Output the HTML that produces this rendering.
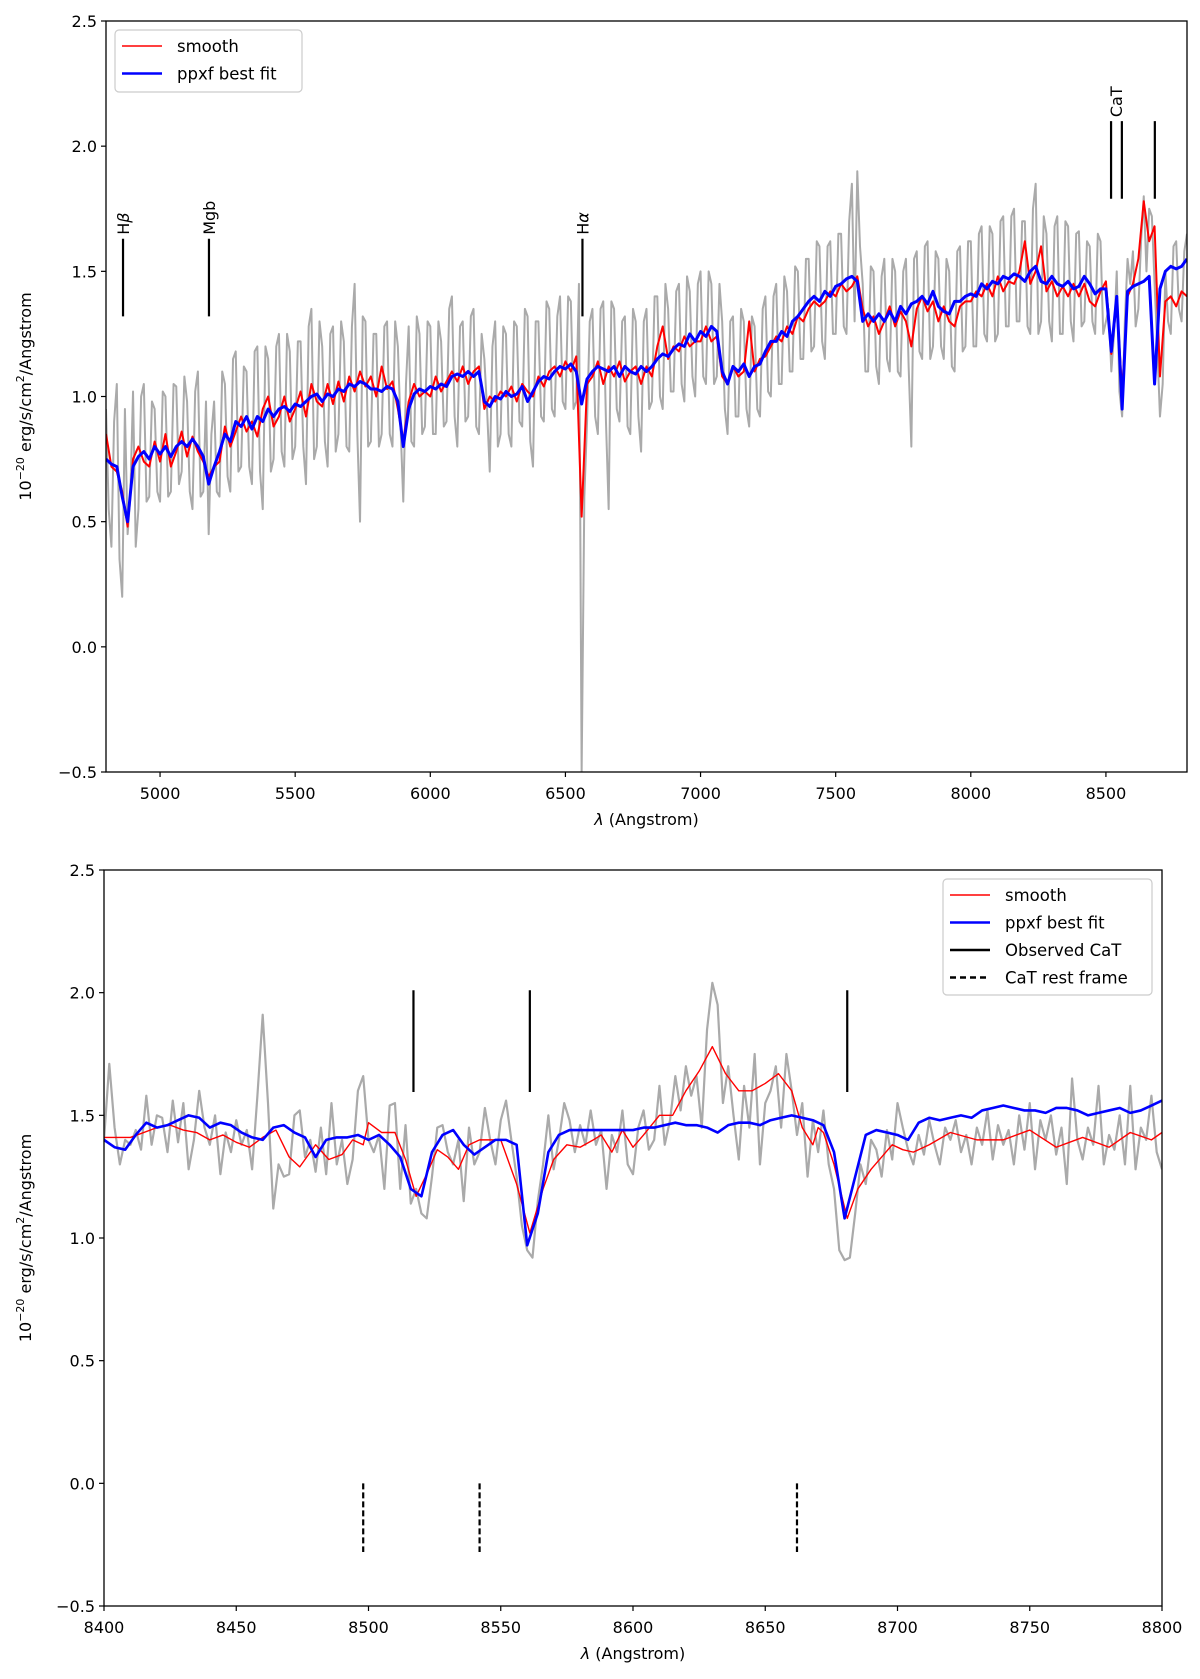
<!DOCTYPE html>
<html><head><meta charset="utf-8"><title>Spectrum fit</title>
<style>
html,body{margin:0;padding:0;background:#fff;}
svg{display:block;font-family:"DejaVu Sans","Liberation Sans",sans-serif;}
</style></head>
<body>
<svg id="fig" width="1200" height="1679" viewBox="0 0 1200 1679" xmlns="http://www.w3.org/2000/svg"></svg>
<script>
// ---------- TOP PANEL DATA ----------
const topStart = 4800, topStep = 20;
const topGray = [
0.95,0.40,1.05,0.20,0.45,1.02,0.55,1.05,0.60,0.95,
0.58,1.00,0.62,1.04,0.70,0.98,0.55,1.10,0.62,0.45,
0.98,0.60,1.05,0.62,1.18,0.72,1.10,0.65,1.20,0.55,
1.15,0.75,1.25,0.72,1.18,0.80,1.22,0.65,1.35,0.80,
1.20,0.72,1.28,0.85,1.22,0.78,1.45,0.50,1.30,0.82,
1.25,0.85,1.30,0.80,1.20,0.58,1.28,0.80,1.25,0.88,
1.28,0.85,1.22,0.90,1.40,0.80,1.30,0.92,1.35,0.85,
1.15,0.70,1.30,0.85,1.25,0.80,1.28,0.88,1.32,0.72,
1.30,0.90,1.35,0.92,1.40,0.95,1.38,0.98,-0.50,0.90,
1.35,0.85,1.38,0.55,1.35,0.90,1.32,0.85,1.30,0.78,
1.35,0.98,1.40,0.95,1.35,1.02,1.45,0.98,1.42,1.00,
1.50,1.05,1.45,1.08,1.30,0.85,1.32,0.92,1.30,0.88,
1.28,0.92,1.40,1.00,1.45,1.05,1.42,1.10,1.50,1.15,
1.55,1.20,1.60,1.15,1.62,1.25,1.65,1.25,1.85,1.90,
1.45,1.10,1.50,1.05,1.55,1.10,1.50,1.08,1.55,0.80,
1.58,1.15,1.62,1.20,1.55,1.15,1.50,1.10,1.60,1.20,
1.62,1.20,1.68,1.22,1.65,1.25,1.72,1.28,1.75,1.30,
1.70,1.25,1.85,1.30,1.65,1.22,1.72,1.25,1.68,1.22,
1.66,1.30,1.60,1.25,1.62,1.30,1.10,1.50,0.92,1.55,
1.58,1.35,1.80,1.75,1.45,0.92,1.50,1.25,1.62,1.30,
1.65];
const topGrayMidStart = 4810;
const topGrayMid = [
0.55,0.90,0.35,0.95,0.60,0.40,1.00,0.58,0.98,0.62,
1.02,0.60,1.05,0.65,1.08,0.62,1.02,0.60,0.98,0.85,
0.62,1.10,0.68,1.15,0.70,1.12,0.72,1.18,0.70,1.20,
0.70,1.20,0.78,1.25,0.75,1.22,0.80,1.28,0.75,1.30,
0.82,1.25,0.78,1.30,0.80,1.28,0.85,1.32,0.80,1.25,
0.80,1.28,0.85,1.30,0.88,1.05,0.82,1.32,0.85,1.30,
0.85,1.30,0.88,1.35,0.92,1.28,0.90,1.32,0.88,1.25,
0.95,1.20,0.80,1.28,0.85,1.30,0.90,1.35,0.82,1.30,
0.92,1.38,0.95,1.32,0.98,1.40,0.95,1.45,0.60,1.30,
0.92,1.35,0.90,1.38,0.95,1.30,0.88,1.35,0.92,1.30,
0.95,1.40,1.00,1.45,1.02,1.42,1.05,1.48,1.08,1.45,
1.08,1.50,1.05,1.45,0.95,1.30,0.92,1.35,0.95,1.32,
0.95,1.35,1.02,1.40,1.05,1.48,1.10,1.52,1.15,1.55,
1.18,1.62,1.22,1.60,1.25,1.65,1.28,1.70,1.30,1.60,
1.10,1.52,1.12,1.48,1.15,1.55,1.10,1.50,1.12,1.55,
1.18,1.60,1.15,1.58,1.20,1.55,1.12,1.58,1.18,1.62,
1.20,1.65,1.25,1.68,1.22,1.70,1.28,1.72,1.30,1.70,
1.28,1.75,1.25,1.72,1.30,1.68,1.25,1.70,1.30,1.65,
1.28,1.62,1.30,1.65,1.25,1.35,1.25,1.02,1.30,1.45,
1.28,1.62,1.50,1.72,1.20,1.05,1.30,1.60,1.35,1.58];
const topRed = [
0.85,0.72,0.70,0.62,0.48,0.75,0.80,0.74,0.72,0.82,
0.74,0.85,0.72,0.78,0.86,0.76,0.84,0.78,0.74,0.68,
0.72,0.74,0.88,0.80,0.86,0.92,0.86,0.90,0.84,0.95,
1.00,0.88,0.92,1.00,0.90,0.95,1.02,0.92,1.05,0.98,
0.96,1.05,0.97,1.06,0.98,1.08,1.02,1.10,1.04,1.08,
1.00,1.12,1.03,1.06,0.95,0.82,0.98,1.05,1.00,1.02,
1.00,1.08,1.02,1.06,1.10,1.06,1.12,1.05,1.10,1.12,
0.95,1.00,0.98,1.02,1.00,1.04,0.98,1.05,1.02,1.00,
1.08,1.04,1.10,1.12,1.08,1.14,1.10,1.16,0.52,1.05,
1.08,1.14,1.05,1.12,1.08,1.14,1.06,1.10,1.12,1.05,
1.12,1.08,1.20,1.28,1.15,1.20,1.18,1.24,1.20,1.22,
1.22,1.28,1.22,1.24,1.08,1.05,1.12,1.08,1.10,1.30,
1.10,1.15,1.16,1.20,1.24,1.22,1.28,1.25,1.32,1.30,
1.35,1.38,1.36,1.38,1.42,1.40,1.45,1.42,1.44,1.48,
1.35,1.28,1.32,1.25,1.30,1.36,1.28,1.34,1.30,1.20,
1.35,1.40,1.34,1.38,1.30,1.36,1.30,1.28,1.36,1.38,
1.38,1.42,1.40,1.45,1.40,1.48,1.42,1.46,1.45,1.50,
1.62,1.45,1.50,1.60,1.42,1.46,1.40,1.44,1.40,1.45,
1.40,1.45,1.38,1.36,1.42,1.46,1.17,1.38,1.02,1.40,
1.45,1.55,1.78,1.62,1.68,1.08,1.38,1.40,1.36,1.42,
1.40];
const topBlue = [
0.75,0.73,0.72,0.60,0.50,0.72,0.76,0.78,0.75,0.80,
0.77,0.80,0.76,0.80,0.82,0.80,0.83,0.80,0.76,0.65,
0.72,0.78,0.85,0.82,0.90,0.88,0.92,0.87,0.92,0.90,
0.95,0.92,0.95,0.96,0.94,0.97,0.96,0.98,1.00,1.01,
0.98,1.01,1.00,1.03,1.02,1.05,1.04,1.06,1.05,1.03,
1.03,1.02,1.04,1.03,0.98,0.80,0.95,1.01,1.03,1.02,
1.04,1.03,1.05,1.04,1.08,1.09,1.08,1.10,1.08,1.10,
0.98,0.96,1.00,0.99,1.02,1.00,1.01,1.04,0.98,1.02,
1.06,1.08,1.07,1.10,1.12,1.11,1.13,1.10,0.97,1.07,
1.10,1.12,1.11,1.10,1.12,1.08,1.12,1.10,1.09,1.12,
1.10,1.12,1.15,1.17,1.16,1.19,1.21,1.20,1.25,1.22,
1.26,1.24,1.28,1.26,1.10,1.05,1.12,1.10,1.13,1.08,
1.12,1.13,1.18,1.22,1.22,1.26,1.24,1.30,1.32,1.35,
1.38,1.40,1.38,1.42,1.40,1.44,1.45,1.47,1.48,1.46,
1.30,1.33,1.30,1.33,1.30,1.34,1.30,1.36,1.33,1.37,
1.38,1.40,1.37,1.42,1.36,1.34,1.33,1.38,1.38,1.40,
1.41,1.40,1.45,1.43,1.46,1.45,1.48,1.47,1.49,1.48,
1.46,1.50,1.52,1.46,1.45,1.48,1.45,1.44,1.46,1.43,
1.44,1.48,1.45,1.41,1.43,1.43,1.18,1.40,0.95,1.42,
1.44,1.45,1.46,1.48,1.05,1.43,1.50,1.52,1.51,1.52,
1.55];
const topTicksX = [5000,5500,6000,6500,7000,7500,8000,8500];
const topTicksY = [-0.5,0.0,0.5,1.0,1.5,2.0,2.5];
const lineNames = ["H|\u03b2","Mgb","H|\u03b1"];
const lineWaves = [4863,5181,6563];
const catTopWaves = [8519,8559,8681];

// ---------- BOTTOM PANEL DATA ----------
const botGrayStart = 8400, botGrayStep = 2;
const botGray = [
1.40,1.71,1.45,1.30,1.40,1.38,1.44,1.36,1.58,1.38,1.50,1.49,1.35,1.56,1.39,1.55,1.28,1.40,1.60,1.45,1.38,
1.50,1.26,1.43,1.35,1.48,1.38,1.44,1.28,1.58,1.91,1.55,1.12,1.30,1.25,1.26,1.50,1.52,1.33,1.40,1.27,
1.45,1.26,1.55,1.30,1.40,1.22,1.32,1.60,1.66,1.40,1.35,1.42,1.20,1.54,1.55,1.20,1.46,1.14,1.20,1.10,
1.08,1.25,1.45,1.46,1.35,1.30,1.40,1.15,1.45,1.30,1.35,1.53,1.40,1.30,1.48,1.56,1.40,1.25,1.05,0.95,
0.92,1.15,1.30,1.50,1.28,1.40,1.55,1.48,1.35,1.46,1.38,1.52,1.38,1.44,1.20,1.42,1.35,1.52,1.30,1.26,
1.45,1.52,1.36,1.40,1.62,1.38,1.48,1.66,1.52,1.70,1.58,1.66,1.45,1.85,2.04,1.95,1.55,1.70,1.50,1.32,
1.62,1.45,1.75,1.30,1.55,1.60,1.70,1.45,1.75,1.60,1.42,1.55,1.25,1.48,1.35,1.52,1.30,1.20,0.95,0.91,
0.92,1.10,1.30,1.22,1.40,1.36,1.25,1.44,1.32,1.55,1.45,1.36,1.30,1.42,1.34,1.48,1.38,1.30,1.45,1.40,
1.48,1.35,1.42,1.30,1.45,1.38,1.52,1.32,1.46,1.38,1.44,1.30,1.50,1.36,1.55,1.28,1.48,1.40,1.50,1.34,
1.45,1.22,1.65,1.40,1.32,1.45,1.38,1.62,1.30,1.42,1.36,1.50,1.30,1.62,1.28,1.45,1.40,1.58,1.35,1.28];
const botRedWave = [8400,8410,8420,8425,8430,8435,8440,8445,8450,8455,8460,8465,8470,8474,8480,8485,8490,8494,8498,8500,8505,8510,8514,8518,8522,8526,8530,8534,8538,8542,8550,8556,8561,8566,8570,8575,8580,8585,8588,8592,8596,8600,8604,8610,8615,8620,8625,8630,8635,8640,8645,8650,8655,8660,8664,8668,8670,8672,8676,8681,8685,8690,8694,8698,8702,8706,8712,8720,8730,8740,8750,8760,8770,8780,8788,8796,8800];
const botRedFlux = [1.41,1.41,1.45,1.46,1.44,1.43,1.40,1.42,1.39,1.37,1.41,1.44,1.33,1.29,1.38,1.32,1.34,1.40,1.38,1.47,1.43,1.43,1.32,1.17,1.26,1.36,1.33,1.28,1.38,1.40,1.40,1.22,1.02,1.20,1.32,1.38,1.37,1.40,1.42,1.35,1.44,1.37,1.42,1.50,1.50,1.60,1.68,1.78,1.67,1.60,1.60,1.63,1.67,1.60,1.45,1.38,1.45,1.43,1.30,1.08,1.20,1.28,1.33,1.38,1.36,1.35,1.38,1.43,1.40,1.40,1.44,1.37,1.41,1.37,1.43,1.40,1.43];
const botBlueStart = 8400, botBlueStep = 4;
const botBlue = [
1.40,1.37,1.36,1.42,1.47,1.45,1.46,1.48,1.50,1.49,
1.45,1.47,1.46,1.43,1.41,1.40,1.45,1.46,1.43,1.41,
1.33,1.40,1.41,1.41,1.42,1.40,1.42,1.38,1.33,1.20,
1.17,1.35,1.42,1.44,1.38,1.34,1.37,1.40,1.40,1.38,
0.97,1.10,1.35,1.42,1.44,1.44,1.44,1.44,1.44,1.44,
1.44,1.45,1.45,1.46,1.47,1.46,1.46,1.45,1.43,1.46,
1.47,1.47,1.46,1.48,1.49,1.50,1.49,1.48,1.46,1.35,
1.08,1.25,1.42,1.44,1.43,1.42,1.40,1.47,1.49,1.48,
1.49,1.50,1.49,1.52,1.53,1.54,1.53,1.52,1.52,1.51,
1.53,1.53,1.52,1.50,1.51,1.52,1.53,1.51,1.52,1.54,
1.56];
const botTicksX = [8400,8450,8500,8550,8600,8650,8700,8750,8800];
const botTicksY = [-0.5,0.0,0.5,1.0,1.5,2.0,2.5];
const catObs = [8517,8561,8681];
const catRest = [8498,8542,8662];

// ---------- DRAWING ----------
const NS = "http://www.w3.org/2000/svg";
const svg = document.getElementById("fig");
function mk(tag, attrs, parent){
  const e = document.createElementNS(NS, tag);
  for (const k in attrs) e.setAttribute(k, attrs[k]);
  (parent||svg).appendChild(e);
  return e;
}
function axis(x0,x1,y0,y1,xmin,xmax,ymin,ymax){
  return {x: v => x0 + (v-xmin)/(xmax-xmin)*(x1-x0), y: v => y1 - (v-ymin)/(ymax-ymin)*(y1-y0), x0,x1,y0,y1};
}
function pathFrom(xs, ys, A){
  let d = "";
  for (let i=0;i<xs.length;i++) d += (i?"L":"M") + A.x(xs[i]).toFixed(2) + "," + A.y(ys[i]).toFixed(2);
  return d;
}
function grid(start, step, n){ const a=[]; for(let i=0;i<n;i++) a.push(start+step*i); return a; }

function drawFrame(A, ticksX, ticksY, panel, group){
  for (const t of ticksY){
    const y = A.y(t);
    const tk = mk("line",{x1:A.x0-5,x2:A.x0,y1:y,y2:y,stroke:"#000","stroke-width":1.2},group);
    
    
    const lb = mk("text",{x:A.x0-9,y:y+6,"text-anchor":"end","font-size":16},group);
    
    
    lb.textContent = (t<0?"\u2212":"") + Math.abs(t).toFixed(1);
  }
  for (const t of ticksX){
    const x = A.x(t);
    const tk = mk("line",{x1:x,x2:x,y1:A.y1,y2:A.y1+5,stroke:"#000","stroke-width":1.2},group);
    
    
    const lb = mk("text",{x:x,y:A.y1+27,"text-anchor":"middle","font-size":16},group);
    
    
    lb.textContent = String(t);
  }
  const fr = mk("rect",{x:A.x0,y:A.y0,width:A.x1-A.x0,height:A.y1-A.y0,fill:"none",stroke:"#000","stroke-width":1.3},group);
  
  
  const xl = mk("text",{x:(A.x0+A.x1)/2,y:A.y1+53,"text-anchor":"middle","font-size":16},group);
  
  
  xl.innerHTML = '<tspan font-style="italic">\u03bb</tspan> (Angstrom)';
  const cy = (A.y0+A.y1)/2;
  const yl = mk("text",{x:0,y:0,"text-anchor":"middle","font-size":16,transform:"translate(31,"+cy+") rotate(-90)"},group);
  
  
  yl.innerHTML = '10<tspan font-size="11" dy="-7">\u221220</tspan><tspan dy="7"> erg/s/cm</tspan><tspan font-size="11" dy="-7">2</tspan><tspan dy="7">/Angstrom</tspan>';
}
function series(xs, ys, A, color, w, name, group){
  const p = mk("path",{d:pathFrom(xs,ys,A),fill:"none",stroke:color,"stroke-width":w,"stroke-linejoin":"round"},group);
  
  
  return p;
}
function legend(x,y,w,h,entries,name,group){
  const g = mk("g",{},group);
  
  
  mk("rect",{x:x,y:y,width:w,height:h,rx:4,fill:"#fff","fill-opacity":0.85,stroke:"#ccc","stroke-width":1.2},g);
  entries.forEach((en,i)=>{
    const ly = y+16+i*27.5;
    const ln = mk("line",{x1:x+7,x2:x+47,y1:ly,y2:ly,stroke:en.c,"stroke-width":en.w,"stroke-dasharray":en.dash||"none"},g);
    
    
    const t = mk("text",{x:x+62,y:ly+6,"font-size":16.5},g);
    
    
    t.textContent = en.t;
  });
}

// Top panel
const gTop = mk("g",{});


const AT = axis(106,1187,21,772,4800,8800,-0.5,2.5);
const clipT = mk("clipPath",{id:"clipT"}); mk("rect",{x:106,y:21,width:1081,height:751},clipT);
const gTopData = mk("g",{"clip-path":"url(#clipT)"},gTop);
const topX = grid(topStart, topStep, topGray.length);
const topXMid = grid(topGrayMidStart, topStep, topGrayMid.length);
const grayX = [], grayY = [];
for (let i=0;i<topGray.length;i++){
  grayX.push(topX[i]); grayY.push(topGray[i]);
  if (i<topGrayMid.length){ grayX.push(topXMid[i]); grayY.push(topGrayMid[i]); }
}
series(grayX, grayY, AT, "#aaaaaa", 2.0, "observed-spectrum", gTopData);
series(topX, topRed, AT, "#ff0000", 2.0, "smooth-spectrum", gTopData);
series(topX, topBlue, AT, "#0000ff", 3.0, "ppxf-best-fit", gTopData);
lineWaves.forEach((w,i)=>{
  const x = AT.x(w);
  const l = mk("line",{x1:x,x2:x,y1:AT.y(1.63),y2:AT.y(1.32),stroke:"#000","stroke-width":2.2},gTop);
  
  
  const t = mk("text",{x:0,y:0,"font-size":16,transform:"translate("+(x+6)+","+(AT.y(1.63)-4)+") rotate(-90)"},gTop);
  
  
  const parts = lineNames[i].split("|");
  if (parts.length>1){
    t.innerHTML = parts[0] + '<tspan font-style="italic">' + parts[1] + '</tspan>';
  } else {
    t.textContent = parts[0];
  }
});
catTopWaves.forEach(w=>{
  const x = AT.x(w);
  const l = mk("line",{x1:x,x2:x,y1:AT.y(2.1),y2:AT.y(1.79),stroke:"#000","stroke-width":2.2},gTop);
  
  
});
const catLbl = mk("text",{x:0,y:0,"font-size":16,transform:"translate("+(AT.x(catTopWaves[1])+0)+","+(AT.y(2.1)-4)+") rotate(-90)"},gTop);


catLbl.textContent = "CaT";
drawFrame(AT, topTicksX, topTicksY, "top", gTop);
legend(115,30,187,62,[{t:"smooth",c:"#ff0000",w:1.5},{t:"ppxf best fit",c:"#0000ff",w:2.5}],"top-legend",gTop);

// Bottom panel
const gBot = mk("g",{});


const AB = axis(104,1162,870,1606,8400,8800,-0.5,2.5);
const clipB = mk("clipPath",{id:"clipB"}); mk("rect",{x:104,y:870,width:1058,height:736},clipB);
const gBotData = mk("g",{"clip-path":"url(#clipB)"},gBot);
series(grid(botGrayStart,botGrayStep,botGray.length), botGray, AB, "#aaaaaa", 2.2, "observed-spectrum-zoom", gBotData);
series(botRedWave, botRedFlux, AB, "#ff0000", 1.4, "smooth-spectrum-zoom", gBotData);
series(grid(botBlueStart,botBlueStep,botBlue.length), botBlue, AB, "#0000ff", 2.6, "ppxf-best-fit-zoom", gBotData);
catObs.forEach(w=>{
  const x = AB.x(w);
  const l = mk("line",{x1:x,x2:x,y1:AB.y(2.01),y2:AB.y(1.595),stroke:"#000","stroke-width":2.2},gBot);
  
  
});
catRest.forEach(w=>{
  const x = AB.x(w);
  const l = mk("line",{x1:x,x2:x,y1:AB.y(0.0),y2:AB.y(-0.28),stroke:"#000","stroke-width":2.2,"stroke-dasharray":"6,3"},gBot);
  
  
});
drawFrame(AB, botTicksX, botTicksY, "bottom", gBot);
legend(943,879,209,116,[{t:"smooth",c:"#ff0000",w:1.5},{t:"ppxf best fit",c:"#0000ff",w:2.5},{t:"Observed CaT",c:"#000",w:2.5},{t:"CaT rest frame",c:"#000",w:2.5,dash:"6,4"}],"bottom-legend",gBot);
</script>
</body></html>
